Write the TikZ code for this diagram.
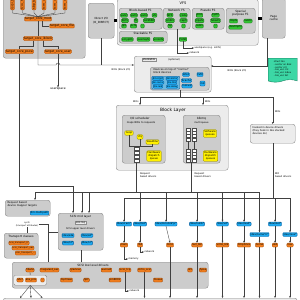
\documentclass[tikz,border=0pt]{standalone}
\usepackage{fontspec}
\setmainfont{DejaVu Sans}
\usetikzlibrary{arrows.meta,shapes.symbols}

\definecolor{boxlight}{RGB}{236,236,236}
\definecolor{boxmid}{RGB}{204,204,204}
\definecolor{boxline}{RGB}{140,140,140}
\definecolor{orfill}{RGB}{240,125,30}
\definecolor{orline}{RGB}{160,75,10}
\definecolor{grfill}{RGB}{50,195,50}
\definecolor{grline}{RGB}{20,110,20}
\definecolor{blfill}{RGB}{30,170,240}
\definecolor{blline}{RGB}{10,95,160}
\definecolor{ylfill}{RGB}{255,240,0}
\definecolor{ylline}{RGB}{130,120,0}
\definecolor{biofill}{RGB}{60,215,165}
\definecolor{bioline}{RGB}{20,120,90}

\tikzset{
  grp/.style={draw=boxline, rounded corners=2.5pt, anchor=north west, inner sep=0pt, line width=0.4pt},
  ttl/.style={font=\fontsize{2.9}{3.3}\selectfont, inner sep=0.3pt, align=center},
  itm/.style={rounded corners=1pt, inner sep=0.5pt, minimum height=4pt, line width=0.3pt, font=\fontsize{2.6}{3}\selectfont},
  org/.style={itm, draw=orline, fill=orfill},
  lioitm/.style={org, font=\fontsize{3.1}{3.5}\selectfont},
  grn/.style={itm, draw=grline, fill=grfill},
  blu/.style={itm, draw=blline, fill=blfill},
  ylw/.style={itm, draw=ylline, fill=ylfill, align=center, inner sep=1pt, minimum height=4.5pt},
  ln/.style={draw=black!75, line width=0.35pt},
  arr/.style={ln, -{Stealth[length=2.2pt,width=1.8pt]}},
  lbl/.style={font=\fontsize{2.4}{2.8}\selectfont, inner sep=0.3pt, align=left},
  qcell/.style={draw=black!70, fill=white, line width=0.25pt},
}

\begin{document}
\begin{tikzpicture}[x=1pt, y=-1pt]
\useasboundingbox (0,0) rectangle (300,300);
\fill[white] (0,0) rectangle (300,300);

% LIO target
\node[grp, fill=boxmid, minimum width=82, minimum height=64] (lio) at (3,-6) {};
\foreach \x/\nm/\txt in {12.5/fabA/iscsi\_target\_mod, 22.5/fabB/tcm\_fc, 34/fabC/sbp\_target, 44/fabD/tcm\_usb\_gadget, 55/fabE/tcm\_vhost, 65/fabF/tcm\_qla2xxx}
  \node[lioitm, rotate=90, anchor=west] (\nm) at (\x,10) {\txt};
\node[lioitm] (mod) at (38,19) {target\_core\_mod};
\node[lioitm] (file) at (62,26) {target\_core\_file};
\node[lioitm] (iblock) at (38,38.5) {target\_core\_iblock};
\node[lioitm] (pscsi) at (19.5,51.5) {target\_core\_pscsi};
\node[lioitm] (user) at (58,51.5) {target\_core\_user};
\node[lbl, font=\fontsize{3}{3.4}\selectfont] (usp1) at (58,89) {userspace};

% direct I/O, VFS, page cache
\node[grp, fill=boxmid, minimum width=26, minimum height=35, align=center, font=\fontsize{2.8}{3.3}\selectfont] (dio) at (88,3) {Direct I/O\\(O\_DIRECT)};
\node[grp, fill=boxlight, minimum width=141, minimum height=46] (vfs) at (117,-1) {};
\node[ttl, font=\fontsize{3.6}{4}\selectfont] (vfsT) at (183,3.5) {VFS};
\node[grp, fill=boxmid, minimum width=23, minimum height=40, align=center, font=\fontsize{2.8}{3.3}\selectfont] (pc) at (262,-2) {Page\\cache};

\node[grp, fill=boxmid, minimum width=43, minimum height=21] (bbfs) at (119,8) {};
\node[ttl] (bbfsT) at (140.5,10.6) {Block-based FS};
\foreach \x/\y/\nm/\txt in {124/15.2/gA/ext2, 134/15.2/gB/ext3, 144/15.2/gC/ext4, 154.5/15.2/gD/xfs,
    125/20.6/gE/btrfs, 136/20.6/gF/ifs, 149/20.6/gG/iso9660,
    124/26/gH/gfs, 133.5/26/gI/ocfs, 142.5/26/gJ/\ldots}
  \node[grn] (\nm) at (\x,\y) {\txt};

\node[grp, fill=boxmid, minimum width=27, minimum height=21] (netfs) at (163,8) {};
\node[ttl] (netfsT) at (176.5,10.6) {Network FS};
\foreach \x/\y/\nm/\txt in {170/15.2/nA/NFS, 183.5/15.2/nB/coda, 170/20.6/nC/smbfs, 183.5/20.6/nD/ceph, 170/26/nE/9p, 183.5/26/nF/\ldots}
  \node[grn] (\nm) at (\x,\y) {\txt};

\node[grp, fill=boxmid, minimum width=32, minimum height=21] (psfs) at (192,8) {};
\node[ttl] (psfsT) at (208,10.6) {Pseudo FS};
\foreach \x/\y/\nm/\txt in {199.5/15.2/pA/proc, 215.5/15.2/pB/sysfs, 199.5/20.6/pC/pipefs, 215.5/20.6/pD/futexfs, 199.5/26/pE/usbfs, 215.5/26/pF/\ldots}
  \node[grn] (\nm) at (\x,\y) {\txt};

\node[grp, fill=boxmid, minimum width=29, minimum height=25] (spfs) at (226,8) {};
\node[ttl] (spfsT) at (240.5,13.2) {Special\\purpose FS};
\node[grn] (sA) at (233.5,21) {tmpfs};
\node[grn] (sB) at (248,21) {ramfs};
\node[grn] (sC) at (235.5,27.2) {devtmpfs};

\node[grp, fill=boxmid, minimum width=48, minimum height=12] (stfs) at (119,31) {};
\node[ttl] (stfsT) at (143,33.6) {Stackable FS};
\node[grn] (tA) at (127.5,39.3) {ecryptfs};
\node[grn] (tB) at (143.5,39.3) {overlayfs};
\node[grn] (tC) at (158.5,39.3) {unionfs};
\node[grn] (fuse) at (183,39.3) {FUSE};

\node[lbl] (usp2) [anchor=west] at (194,48) {userspace (e.g. sshfs)};
\node[lbl] (netw) [anchor=west] at (189,53) {network};

% struct bio
\node[tape, draw=bioline, fill=biofill, tape bend top=none, tape bend height=2.5pt, anchor=north west,
  minimum width=29, minimum height=24, inner sep=1pt, align=left, line width=0.35pt,
  font=\fontsize{2.3}{2.7}\selectfont] (sbio) at (268,58)
  {struct bio\\- sector on disk\\- sector cnt\\- bio\_vec cnt\\- bio\_vec index\\- bio\_vec list};

% stackable devices
\node[grp, fill=boxlight, minimum width=77, minimum height=36] (stk) at (134,56) {};
\node[lbl, draw=boxline, fill=boxlight, inner sep=0.6pt, font=\fontsize{2.6}{3}\selectfont] (stkT) at (149,60) {stackable};
\node[lbl] (stkO) at (174,60) {(optional)};
\node[grp, fill=boxmid, minimum width=59, minimum height=23] (stkin) at (150,67) {};
\node[lbl, anchor=north west, font=\fontsize{2.6}{3}\selectfont] (stkD) at (153,68.3) {Devices on top of "normal"\\block devices};
\node[grp, draw=blline, fill=blfill!55!boxmid, rounded corners=1pt, minimum width=28, minimum height=13] (dmg) at (151.5,76) {};
\foreach \x/\y/\nm/\txt in {158/78.6/dA/dm-crypt, 172/78.6/dB/dm-mirror, 158/82.5/dC/dm-cache, 172/82.5/dD/dm-thin, 158/86.4/dE/dm-raid, 172/86.4/dF/dm-delay}
  \node[blu, minimum height=3.5pt, font=\fontsize{2.2}{2.5}\selectfont] (\nm) at (\x,\y) {\txt};
\node[blu] (drbd) at (186,74.5) {drbd};
\node[blu] (lvm) at (200,74.5) {LVM};
\node[blu] (bcache) at (186.5,80.5) {bcache};
\node[blu] (mdraid) at (187,86) {mdraid};
\node[blu, minimum height=5pt] (md) at (202.5,83.5) {md};

% block layer
\node[grp, fill=boxlight, minimum width=112, minimum height=65] (blk) at (116,105) {};
\node[ttl, font=\fontsize{4.4}{5}\selectfont] (blkT) at (173,110) {Block Layer};
\node[grp, fill=boxmid, minimum width=43, minimum height=48] (iosch) at (122,115) {};
\node[ttl] (ioschT) at (140,118.3) {I/O scheduler};
\node[lbl, font=\fontsize{2.5}{2.9}\selectfont] (ioschM) at (141,123.3) {maps BIOs to requests};
\node[ylw] (noop) at (129,133) {noop};
\node[ylw] (cfq) at (140,137) {cfq};
\node[ylw] (dline) at (152.5,142) {deadline};
\node[ylw] (hwq) at (154,156) {Hardware\\dispatch\\queue};
\node[minimum width=5, minimum height=16, inner sep=0pt] (q1) at (136.5,155) {};
\foreach \k in {0,1,2,3}
  \draw[qcell] (134,147+4*\k) rectangle ++(5,3.5);

\node[grp, fill=boxmid, minimum width=37, minimum height=48] (mqbox) at (183,115) {};
\node[ttl] (mqT) at (201.5,118.3) {blkmq};
\node[lbl] (mqS) at (201.5,123) {multi queue};
\node[minimum width=10.5, minimum height=13, inner sep=0pt] (swq) at (191.25,134.5) {};
\node[minimum width=10.5, minimum height=13, inner sep=0pt] (hwqs) at (191.25,155.5) {};
\foreach \k in {0,1,2,3} {
  \draw[qcell] (186,128+3.3*\k) rectangle ++(4.5,2.9);
  \draw[qcell] (192,128+3.3*\k) rectangle ++(4.5,2.9);
  \draw[qcell] (186,149+3.3*\k) rectangle ++(4.5,2.9);
  \draw[qcell] (192,149+3.3*\k) rectangle ++(4.5,2.9);
}
\node[ylw] (swql) at (210,133.5) {Software\\queues};
\node[ylw] (hwql) at (210.5,156) {Hardware\\dispatch\\queues};

\node[grp, fill=boxlight, minimum width=45, minimum height=19] (hook) at (250,124) {};
\node[lbl, anchor=north west, font=\fontsize{2.5}{3}\selectfont] (hookT) at (252,126.5) {hooked in device drivers\\(they hook in like stacked\\devices do)};

\node[lbl, anchor=east] (biosA) at (139,102) {BIOs};
\node[lbl, anchor=west] (biosB) at (204.5,102) {BIOs};
\node[lbl, anchor=west] (biosC) at (274.5,112) {BIOs};
\node[lbl] (biosL) at (121,69.5) {BIOs (block I/O)};
\node[lbl] (biosR) at (237,70.5) {BIOs (block I/O)};
\node[lbl, anchor=west] (reqA) at (139.5,175) {Request\\based drivers};
\node[lbl, anchor=west] (reqB) at (194,175) {Request\\based drivers};
\node[lbl, anchor=west] (bioD) at (274.5,175) {BIO\\based drivers};

% request based dm, SCSI
\node[grp, fill=boxmid, minimum width=45, minimum height=16] (dmt) at (5,200) {};
\node[lbl, anchor=north west, font=\fontsize{2.6}{3}\selectfont] (dmtT) at (7,201.5) {Request based\\device mapper targets};
\node[blu] (dmmp) at (39.5,213) {dm-multipath};
\node[lbl, align=center, font=\fontsize{2.1}{2.5}\selectfont] (sysfs) at (27,224.5) {sysfs\\(transport attributes)};

\node[grp, fill=boxmid, minimum width=34, minimum height=25] (tc) at (4,233) {};
\node[ttl] (tcT) at (21,236.6) {Transport classes};
\node[org, font=\fontsize{2.3}{2.7}\selectfont] (tfc) at (19,243) {scsi\_transport\_fc};
\node[org, font=\fontsize{2.3}{2.7}\selectfont] (tsas) at (23,248) {scsi\_transport\_sas};
\node[org, font=\fontsize{2.3}{2.7}\selectfont] (tdots) at (25.5,253) {scsi\_transport\_\ldots};

\node[grp, fill=boxmid, minimum width=45, minimum height=37] (scsiml) at (58,213) {};
\node[ttl] (smlT) at (80.5,216.8) {SCSI mid layer};
\node[lbl, draw=boxline, fill=boxlight, inner sep=0.6pt] (smq) at (80.5,222.5) {scsi-mq};
\node[lbl] (sulT) at (80.5,228.5) {SCSI upper level drivers};
\node[blu] (sda) at (68,235.5) {/dev/sda};
\node[blu] (sdx) at (87,235.5) {/dev/sd*};
\node[blu] (stx) at (68,243) {/dev/st*};
\node[blu] (srx) at (87,243) {/dev/sr*};

% SCSI low level drivers
\node[grp, fill=boxmid, minimum width=196, minimum height=26] (ll) at (12,262) {};
\node[ttl] (llT) at (93,265.6) {SCSI low level drivers};
\node[grp, fill=boxlight, rounded corners=1.5pt, minimum width=33, minimum height=10] (lata) at (13.5,275) {};
\node[org] (libata) at (30,270) {libata};
\node[org] (ahci) at (20,280) {ahci};
\node[org] (atap) at (31,280) {ata\_piix};
\node[org] (adots) at (42.5,280) {\ldots};
\node[org] (mega) at (49.5,270) {megaraid\_sas};
\node[org] (qla) at (75.5,270) {qla2xxx};
\node[org] (aac) at (106.5,270) {aacraid};
\node[org] (itcp) at (125,270) {iscsi\_tcp};
\node[org] (vscsi) at (144.5,270) {virtio\_scsi};
\node[org] (ufs) at (190,270) {ufs};
\node[org] (hpsa) at (203,270) {hpsa};
\node[org] (mpt) at (66.5,280) {mpt3sas};
\node[org] (lpfc) at (86.5,280) {lpfc};
\node[org] (pm) at (115,280) {pm8001};
\node[org] (mvsas) at (158,280) {mvsas};
\node[lbl, anchor=west] (net3) at (129,291) {network};

% block devices and their drivers
\node[blu] (b1) at (124,224) {/dev/zram*};
\node[blu] (b2) at (140,224) {/dev/rbd*};
\node[blu] (b3) at (166,224) {/dev/mmcblk*p*};
\node[blu] (b4) at (197,224) {/dev/nullb*};
\node[blu] (b5) at (222.5,224) {/dev/vd*};
\node[blu] (b6) at (244,224) {/dev/rssd*};
\node[blu] (b7) at (259.5,234.5) {/dev/nvme*n*};
\node[blu] (b8) at (275,224) {/dev/skd*};
\node[blu] (b9) at (290,234.5) {/dev/rsxx*};
\node[org] (o1) at (124,245) {zram};
\node[org] (o2) at (140,245) {rbd};
\node[org] (o3) at (170,245) {mmc};
\node[org] (o4) at (197,245) {null\_blk};
\node[org] (o5) at (222.5,245) {virtio\_blk};
\node[org] (o6) at (244,245) {mtip32xx};
\node[org] (o7) at (259.5,245) {nvme};
\node[org] (o8) at (275,245) {skd};
\node[org] (o9) at (290,245) {rsxx};
\node[lbl, anchor=west] (mem) at (128,259) {memory};
\node[lbl, anchor=west] (net2) at (144,252) {network};

\node[grp, fill=boxlight, minimum width=294, minimum height=20] (phys) at (3,298) {};

% connectors, top part
\foreach \f in {fabA,fabB,fabC,fabD,fabE,fabF}
  \draw[ln] (\f.west) -- ++(0,3) -- (mod.north);
\draw[ln] (mod.south) -- (iblock.north);
\draw[ln] ([xshift=4pt]mod.south) |- (file.west);
\draw[ln] ([xshift=-5pt]iblock.south) -- ++(0,5) -| (pscsi.north);
\draw[ln] ([xshift=5pt]iblock.south) -- ++(0,5) -| (user.north);
\draw[arr] (user.south) -- (usp1.north);
\coordinate (hopA) at (56,65);
\coordinate (stkL) at (134,65);
\draw[arr] (iblock.south) |- (hopA) arc[start angle=180, end angle=360, radius=2] -- (stkL);
\draw[ln] (dio.south) -- (dio.south |- stkL);
\draw[line width=3pt] (dio.east) -- (dio.east -| vfs.west);
\draw[line width=3pt] (pc.west) -- (pc.west -| vfs.east);
\draw[arr] (fuse.south) |- (usp2.west);
\draw[arr] (netfs.south) |- (netw.west);
\coordinate (pcout) at (267,38);
\coordinate (stkR) at (211,66);
\draw[arr] (pcout) |- (stkR);

% BIOs into the block layer
\coordinate (bus1L) at (140,97);
\coordinate (bus1M) at (203,97);
\draw[ln] (stkin.south) -- (stkin.south |- bus1L);
\draw[ln] (bus1L) -- (bus1L -| hook.north);
\draw[arr] (bus1L) -- (bus1L |- blk.north);
\draw[arr] (bus1M) -- (bus1M |- blk.north);
\draw[arr] (bus1L -| hook.north) -- (hook.north);

% inside the block layer
\coordinate (qin) at (136.5,146);
\draw[ln] (noop) |- (qin);
\draw[ln] (cfq) |- (qin);
\draw[ln] (dline) |- (qin);
\draw[ln] (qin) -- (q1.north);
\draw[ln] ([xshift=-2.6pt]swq.south) -- ([xshift=-2.6pt]hwqs.north);
\draw[ln] ([xshift=2.6pt]swq.south) -- ([xshift=2.6pt]hwqs.north);

% request based and BIO based paths
\coordinate (pj) at (73,186);
\coordinate (rbL) at (35,192);
\coordinate (sA) at (82,192);
\coordinate (sB) at (89,192);
\coordinate (bbR) at (290,198);
\draw[arr] (pscsi.south) |- (pj) -- (pj |- scsiml.north);
\draw[ln] (rbL) -- (b7 |- rbL);
\draw[ln] (q1.south) -- (q1.south |- rbL);
\draw[ln] (hwqs.south) -- (hwqs.south |- rbL);
\draw[arr] (rbL) -- (rbL |- dmt.north);
\draw[arr] (sA) -- (sA |- scsiml.north);
\draw[arr] (sB) -- (sB |- scsiml.north);
\foreach \b in {b2,b3,b4,b5,b6,b7}
  \draw[arr] (\b |- rbL) -- (\b.north);
\draw[ln] (b1 |- bbR) -- (bbR);
\draw[ln] (hook.south) -- (hook.south |- bbR);
\foreach \b in {b1,b8,b9}
  \draw[arr] (\b |- bbR) -- (\b.north);

% drivers down to the devices
\foreach \k in {1,...,9}
  \draw[arr] (b\k.south) -- (o\k.south |- o\k.north);
\draw[arr] (o1.south) |- (mem.west);
\draw[arr] (o2.south) |- (net2.west);
\foreach \k in {3,...,9}
  \draw[arr] (o\k.south) -- (o\k.south |- phys.north);

% SCSI connectors
\coordinate (llA) at (48,262);
\draw[ln] (sysfs.south) -- (sysfs.south |- tc.north);
\draw[ln] (sysfs.east) -| (llA);
\draw[ln] (scsiml.west) -- (scsiml.west -| llA);
\draw[ln] (scsiml.south) -- (scsiml.south |- ll.north);
\draw[ln] (libata.south) -- (lata.north);
\draw[arr] (lata.south) -- (phys.north -| ahci);
\draw[arr] (lata.south) -- (phys.north -| atap);
\draw[arr] (lata.south) -- (phys.north -| adots);
\draw[arr] (vscsi.south) -- (vscsi.south |- phys.north);
\draw[arr] (itcp.south) |- (net3.west);

\end{tikzpicture}
\end{document}
